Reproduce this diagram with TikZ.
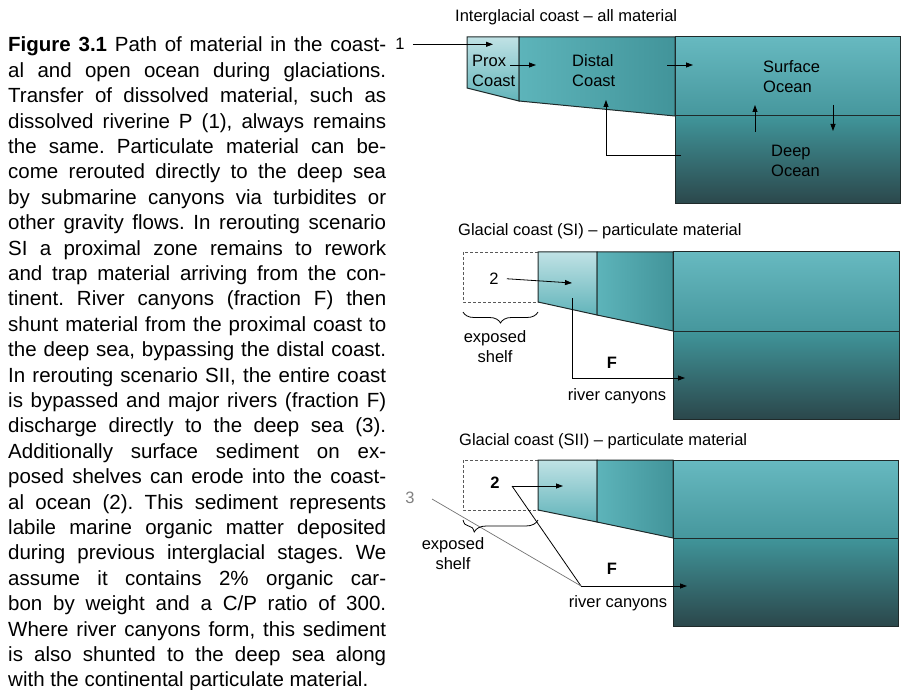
\documentclass[tikz,border=0pt]{standalone}
\usepackage{fontspec}
\setmainfont{Liberation Sans}
\usetikzlibrary{arrows.meta,decorations.pathreplacing}
\definecolor{edge}{HTML}{1F2A2A}
\definecolor{proxtop}{HTML}{C0E2E5}
\definecolor{proxbot}{HTML}{62B4BA}
\definecolor{distl}{HTML}{5DB4BA}
\definecolor{distr}{HTML}{42949A}
\definecolor{surftop}{HTML}{67B9C0}
\definecolor{surfbot}{HTML}{46979D}
\definecolor{deeptop}{HTML}{40959A}
\definecolor{deepbot}{HTML}{2B474B}

\begin{document}
\begin{tikzpicture}[x=1pt,y=-1pt,
 lbl/.style={inner sep=0pt,align=left,anchor=base west,font=\fontsize{16.5}{20}\selectfont},
 num/.style={inner sep=0pt,anchor=base,font=\fontsize{16.5}{20}\selectfont},
 caption/.style={anchor=base west,inner sep=0pt,text width=378pt,align=justify,
  font=\fontsize{20.5}{25.4}\selectfont},
 zone/.style={draw=edge,line width=1pt},
 prox/.style={zone,top color=proxtop,bottom color=proxbot},
 distal/.style={zone,left color=distl,right color=distr},
 surf/.style={zone,top color=surftop,bottom color=surfbot},
 deep/.style={zone,top color=deeptop,bottom color=deepbot},
 shelf/.style={draw=black!65,line width=0.8pt,dash pattern=on 3pt off 2pt},
 brc/.style={decorate,line width=0.8pt},
 arr/.style={-{Triangle[length=7pt,width=5pt]},line width=0.8pt}]
\useasboundingbox (0,0) rectangle (906,690);

% caption column
\node[caption] (cap) at (8,52) {\frenchspacing\parfillskip=0pt \tolerance=10000 \hyphenpenalty=10000
\textbf{Figure 3.1} Path of material in the coast-\linebreak
al and open ocean during glaciations.\linebreak
Transfer of dissolved material, such as\linebreak
dissolved riverine P (1), always remains\linebreak
the same. Particulate material can be-\linebreak
come rerouted directly to the deep sea\linebreak
by submarine canyons via turbidites or\linebreak
other gravity flows. In rerouting scenario\linebreak
SI a proximal zone remains to rework\linebreak
and trap material arriving from the con-\linebreak
tinent. River canyons (fraction F) then\linebreak
shunt material from the proximal coast to\linebreak
the deep sea, bypassing the distal coast.\linebreak
In rerouting scenario SII, the entire coast\linebreak
is bypassed and major rivers (fraction F)\linebreak
discharge directly to the deep sea (3).\linebreak
Additionally surface sediment on ex-\linebreak
posed shelves can erode into the coast-\linebreak
al ocean (2). This sediment represents\linebreak
labile marine organic matter deposited\linebreak
during previous interglacial stages. We\linebreak
assume it contains 2\% organic car-\linebreak
bon by weight and a C/P ratio of 300.\linebreak
Where river canyons form, this sediment\linebreak
is also shunted to the deep sea along\linebreak
with the continental particulate material.};

% interglacial coast
\path[prox] (467,37) -- (519,37) -- (519,101) -- (467,88) -- cycle;
\path[distal] (519,37) -- (675,37) -- (675,116) -- (519,101) -- cycle;
\path[surf] (675,37) rectangle (900,116);
\path[deep] (675,116) rectangle (900,204);
\node[lbl] (ttitle) at (455,22) {Interglacial coast -- all material};
\node[num] (one) at (400,50) {1};
\node[lbl] (tprox) at (472,87) {Prox\\Coast};
\node[lbl] (tdist) at (572,87) {Distal\\Coast};
\node[lbl] (tsurf) at (763,93) {Surface\\Ocean};
\node[lbl] (tdeep) at (771,177) {Deep\\Ocean};
\coordinate (tin) at (493,44);
\coordinate (tpa) at (510,65);
\coordinate (tpb) at (536,65);
\coordinate (tda) at (667,65);
\coordinate (tdb) at (693,65);
\coordinate (tupa) at (755,132);
\coordinate (tupb) at (755,105);
\coordinate (tdna) at (833,105);
\coordinate (tdnb) at (833,131);
\coordinate (tra) at (681,155);
\coordinate (trb) at (606,100);
\draw[arr,shorten <=8pt] (one.east) -- (one.east -| tin);
\draw[arr] (tpa) -- (tpb);
\draw[arr] (tda) -- (tdb);
\draw[arr] (tupa) -- (tupb);
\draw[arr] (tdna) -- (tdnb);
\draw[arr] (tra) -| (trb);

% glacial coast, scenario SI
\path[shelf] (463,252) rectangle (538,302);
\path[prox] (538,252) -- (597,252) -- (597,315) -- (538,302) -- cycle;
\path[distal] (597,252) -- (673,252) -- (673,331) -- (597,315) -- cycle;
\path[surf] (673,252) rectangle (899,331);
\path[deep] (673,331) rectangle (899,419);
\node[lbl] (mtitle) at (458,236) {Glacial coast (SI) -- particulate material};
\node[num] (mtwo) at (494,284) {2};
\node[num,align=center] (mshelf) at (495,362) {exposed\\shelf};
\node[num,font=\fontsize{16.5}{20}\selectfont\bfseries] (mF) at (612,368) {F};
\node[num] (mcan) at (617,400) {river canyons};
\coordinate (mtwoe) at (572,283);
\coordinate (mcs) at (572,298);
\coordinate (mce) at (685,378);
\draw[arr,shorten <=8pt] (mtwo.east) -- (mtwoe);
\draw[arr] (mcs) |- (mce);
\draw[brc,decoration={brace,mirror,amplitude=11pt}] (463,312) -- (538,312);

% glacial coast, scenario SII
\path[shelf] (463,460) rectangle (538,510);
\path[prox] (538,460) -- (597,460) -- (597,522) -- (538,510) -- cycle;
\path[distal] (597,460) -- (673,460) -- (673,538) -- (597,522) -- cycle;
\path[surf] (673,460) rectangle (898,538);
\path[deep] (673,538) rectangle (898,626);
\node[lbl] (btitle) at (459,445) {Glacial coast (SII) -- particulate material};
\node[num,text=black!50] (bthree) at (410,503) {3};
\node[num,font=\fontsize{16.5}{20}\selectfont\bfseries] (btwo) at (495,488) {2};
\node[num,align=center] (bshelf) at (453,569) {exposed\\shelf};
\node[num,font=\fontsize{16.5}{20}\selectfont\bfseries] (bF) at (612,574) {F};
\node[num] (bcan) at (618,607) {river canyons};
\coordinate (btwos) at (512,486);
\coordinate (btwoe) at (563,486);
\coordinate (bv) at (581,586);
\coordinate (bce) at (687,586);
\coordinate (bthrees) at (432,499);
\draw[arr] (btwos) -- (btwoe);
\draw[line width=0.8pt] (btwos) -- (bv);
\draw[arr] (bv) -- (bce);
\draw[black!55,line width=0.7pt] (bthrees) -- (bv);
\draw[brc,decoration={brace,mirror,amplitude=12pt,aspect=0.15}] (463,520) -- (538,520);
\end{tikzpicture}
\end{document}
